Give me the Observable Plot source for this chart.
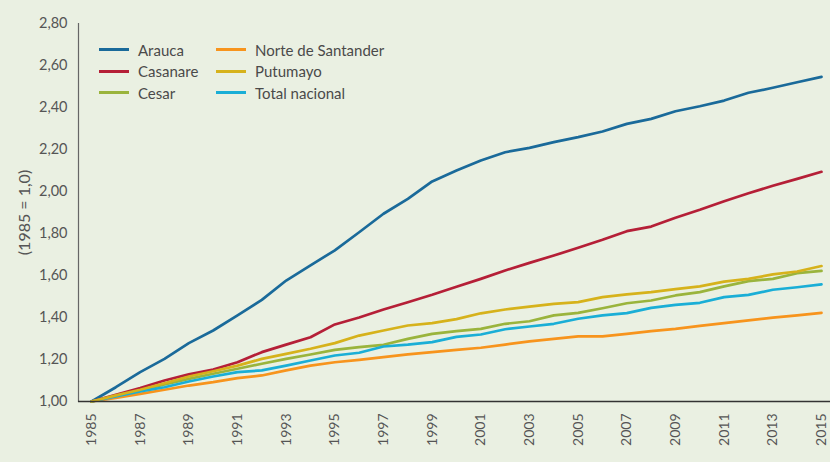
<!DOCTYPE html>
<html><head><meta charset="utf-8">
<script src="https://cdn.jsdelivr.net/npm/d3@7"></script>
<script src="https://cdn.jsdelivr.net/npm/@observablehq/plot@0.6"></script>
<style>
body{margin:0;background:#eaf0e2;}
#wrap{position:relative;width:830px;height:462px;font-family:Lato,"Noto Sans",sans-serif;}
#legend{position:absolute;left:99px;top:39px;display:grid;grid-template-columns:117px auto;grid-auto-flow:column;grid-template-rows:repeat(3,21.5px);}
.item{display:flex;align-items:center;font-size:15px;color:#4a4a4a;white-space:nowrap;}
.sw{width:30px;height:3px;margin-right:9px;}
</style></head><body>
<div id="wrap"><div id="legend"></div></div>
<script>
const years = [1985,1986,1987,1988,1989,1990,1991,1992,1993,1994,1995,1996,1997,1998,1999,2000,2001,2002,2003,2004,2005,2006,2007,2008,2009,2010,2011,2012,2013,2014,2015];
const seriesNames = ["Arauca","Casanare","Cesar","Norte de Santander","Putumayo","Total nacional"];
const seriesColors = ["#1a6a9a","#b51f37","#9ab43c","#f7941d","#d6b21b","#1aaed6"];
const arauca = [1.00,1.068,1.14,1.203,1.278,1.338,1.41,1.484,1.576,1.648,1.72,1.806,1.894,1.965,2.048,2.10,2.148,2.187,2.208,2.235,2.259,2.286,2.322,2.346,2.382,2.406,2.433,2.47,2.494,2.52,2.546];
const casanare = [1.00,1.032,1.064,1.10,1.129,1.152,1.187,1.235,1.271,1.306,1.367,1.40,1.438,1.473,1.508,1.546,1.584,1.624,1.66,1.695,1.732,1.77,1.811,1.833,1.875,1.913,1.954,1.992,2.027,2.06,2.094];
const cesar = [1.00,1.025,1.052,1.081,1.108,1.132,1.156,1.18,1.203,1.224,1.246,1.259,1.27,1.298,1.322,1.335,1.346,1.37,1.382,1.41,1.422,1.444,1.468,1.481,1.505,1.521,1.548,1.573,1.584,1.611,1.622];
const norte = [1.00,1.017,1.036,1.056,1.076,1.092,1.111,1.124,1.148,1.171,1.187,1.198,1.211,1.224,1.235,1.246,1.256,1.271,1.286,1.298,1.31,1.31,1.322,1.335,1.346,1.36,1.373,1.386,1.399,1.41,1.422];
const putumayo = [1.00,1.029,1.056,1.087,1.119,1.144,1.171,1.203,1.227,1.251,1.278,1.314,1.338,1.362,1.373,1.392,1.42,1.438,1.452,1.465,1.473,1.497,1.51,1.521,1.535,1.548,1.571,1.584,1.605,1.619,1.645];
const total = [1.00,1.024,1.048,1.068,1.095,1.119,1.14,1.148,1.171,1.195,1.219,1.232,1.262,1.271,1.283,1.308,1.319,1.344,1.357,1.37,1.394,1.41,1.421,1.446,1.46,1.47,1.497,1.508,1.532,1.544,1.558];
const yTicks = [1.0,1.2,1.4,1.6,1.8,2.0,2.2,2.4,2.6,2.8];
const xTicks = [1985,1987,1989,1991,1993,1995,1997,1999,2001,2003,2005,2007,2009,2011,2013,2015];
const yLabel = "(1985 = 1,0)";

const drawOrder = ["Arauca","Casanare","Cesar","Norte de Santander","Total nacional","Putumayo"];
const valuesBy = {"Arauca":arauca,"Casanare":casanare,"Cesar":cesar,"Norte de Santander":norte,"Putumayo":putumayo,"Total nacional":total};
const data = drawOrder.flatMap(s => years.map((yr,i) => ({year: yr, value: valuesBy[s][i], series: s})));

const chart = Plot.plot({
  width: 830, height: 462,
  marginLeft: 78, marginRight: 0, marginTop: 23, marginBottom: 61,
  style: {background: "transparent", fontFamily: "Lato, 'Noto Sans', sans-serif"},
  x: {domain: [1985, 2015], insetLeft: 13, insetRight: 9},
  y: {domain: [1.0, 2.8]},
  color: {domain: seriesNames, range: seriesColors},
  marks: [
    Plot.axisY({ticks: yTicks, tickSize: 0, tickPadding: 11, tickFormat: d => d.toFixed(2).replace(".", ","), fontSize: 14.5, color: "#555", label: null}),
    Plot.axisY({ticks: [], tickSize: 0, fontSize: 16, color: "#555",
      label: yLabel, labelAnchor: "center", labelArrow: "none", labelOffset: 60}),
    Plot.axisX({ticks: xTicks, tickSize: 0, tickPadding: 12, tickRotate: -90, tickFormat: d => String(d), fontSize: 14, color: "#555", label: null}),
    Plot.frame({anchor: "left", stroke: "#666", strokeWidth: 1.2, strokeOpacity: 1}),
    Plot.line(data, {x: "year", y: "value", z: "series", stroke: "series", strokeWidth: 2.7, strokeLinejoin: "round"}),
    Plot.ruleY([1.0], {stroke: "#333", strokeWidth: 1.5})
  ]
});
const wrap = document.getElementById("wrap");
wrap.insertBefore(chart, wrap.firstChild);
chart.style.position = "absolute"; chart.style.left = "0"; chart.style.top = "0";
chart.querySelectorAll("text").forEach(t => { if (t.textContent === yLabel) { t.setAttribute("font-size", "16"); t.style.fontSize = "16px"; t.style.fill = "#555"; } });

const legend = document.getElementById("legend");
seriesNames.forEach((s, i) => {
  const it = document.createElement("div"); it.className = "item";
  const sw = document.createElement("span"); sw.className = "sw"; sw.style.background = seriesColors[i];
  it.appendChild(sw); it.appendChild(document.createTextNode(s));
  legend.appendChild(it);
});
</script>
</body></html>
